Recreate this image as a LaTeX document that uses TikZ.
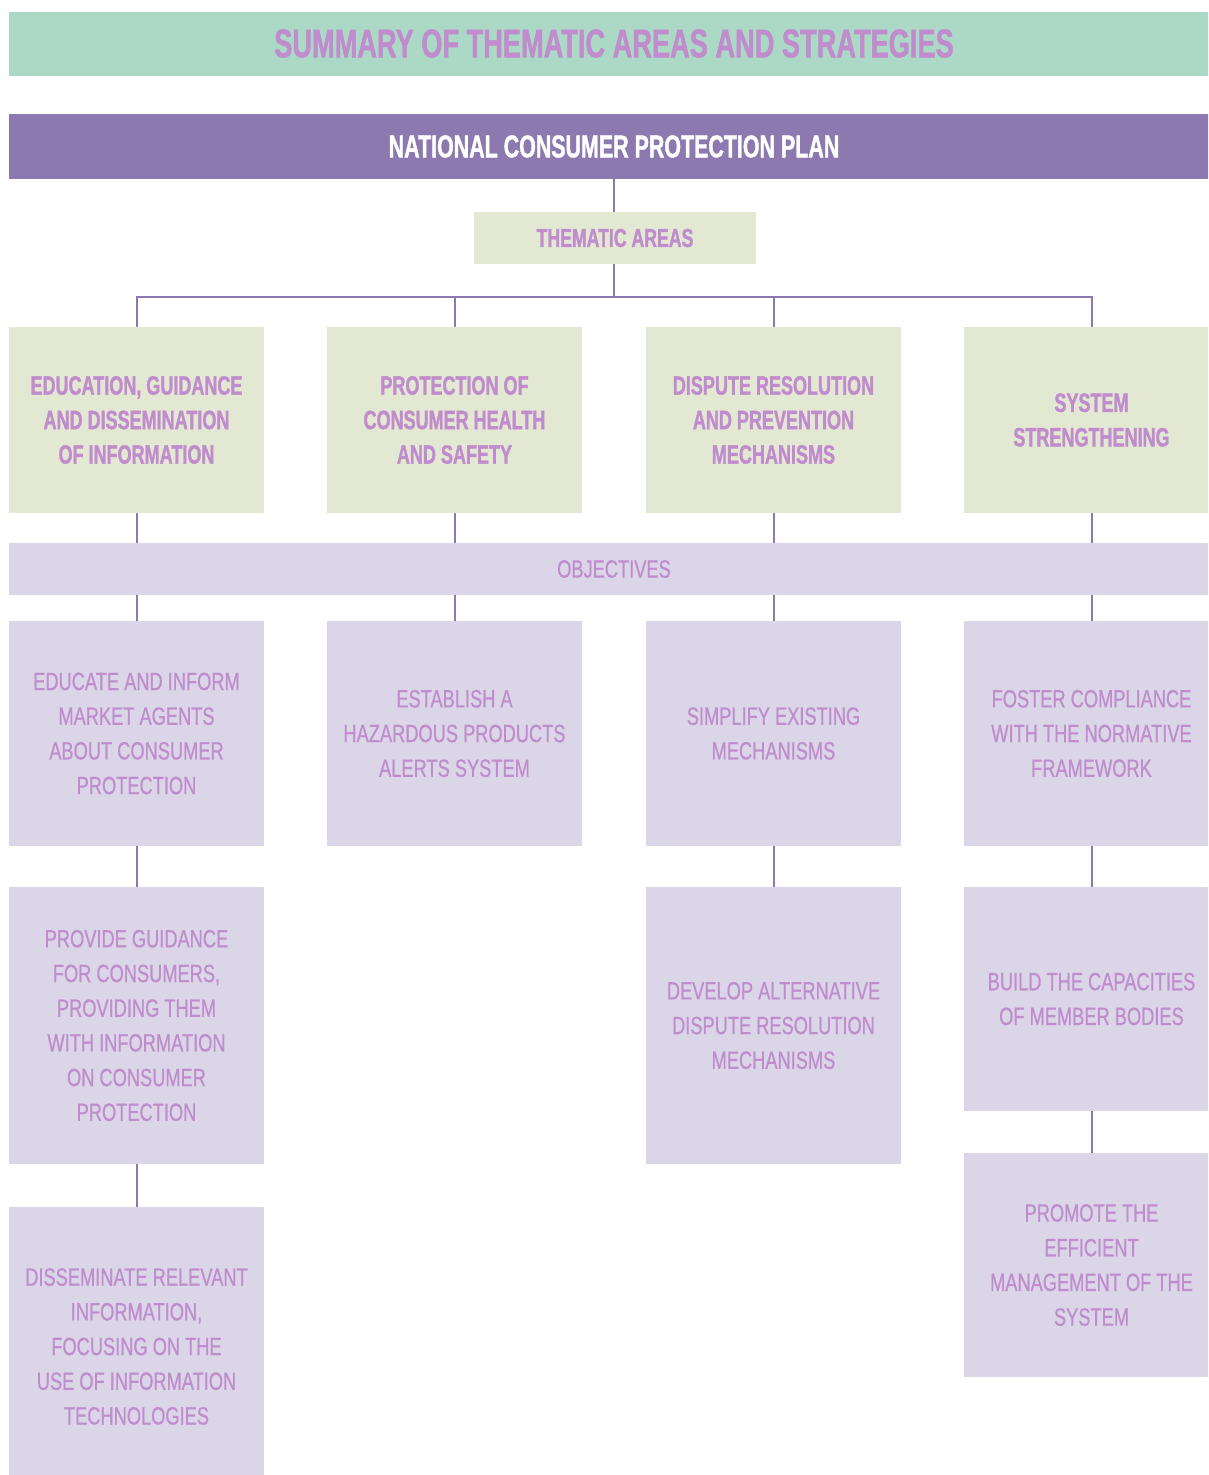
\documentclass[tikz,border=0pt]{standalone}
\usepackage{fontspec}
\newfontfamily\boldcond{Liberation Sans Bold}[FakeStretch=0.68, FakeBold=1.2]
\newfontfamily\regcond{Liberation Sans}[FakeStretch=0.73, FakeBold=0.6]
\definecolor{titlebar}{HTML}{ABD9C6}
\definecolor{planbar}{HTML}{8B79AF}
\definecolor{greenbox}{HTML}{E3E8D3}
\definecolor{lilacbox}{HTML}{DAD5E7}
\definecolor{pinktext}{HTML}{C08CCD}
\definecolor{linecol}{HTML}{8B79AF}
\begin{document}
\begin{tikzpicture}[x=1pt,y=-1pt,
  bar/.style={inner sep=0pt, minimum width=1210, align=center},
  thbox/.style={fill=greenbox, text=pinktext, inner sep=0pt, minimum width=255, align=center,
     font=\boldcond\fontsize{26.5}{34.5}\selectfont},
  obox/.style={fill=lilacbox, text=pinktext, inner sep=0pt, minimum width=255, align=center,
     font=\regcond\fontsize{25}{34.7}\selectfont},
  conn/.style={draw=linecol, line width=2pt}]
\useasboundingbox (0,0) rectangle (1208,1475);
\clip (0,0) rectangle (1208,1475);
% bars
\node[bar, fill=titlebar, text=pinktext, minimum height=64, font=\boldcond\fontsize{40}{44}\selectfont] (title) at (614,43.5) {SUMMARY OF THEMATIC AREAS AND STRATEGIES};
\node[bar, fill=planbar, text=white, minimum height=65, font=\boldcond\fontsize{31.5}{34}\selectfont] (plan) at (614,146.5) {NATIONAL CONSUMER PROTECTION PLAN};
\node[thbox, minimum width=282, minimum height=52, font=\boldcond\fontsize{26}{30}\selectfont] (ta) at (615,238) {THEMATIC AREAS};
\coordinate (hub) at (614,297);
% thematic boxes
\node[thbox, minimum height=186] (t1) at (136.5,420) {EDUCATION, GUIDANCE\\AND DISSEMINATION\\OF INFORMATION};
\node[thbox, minimum height=186] (t2) at (454.5,420) {PROTECTION OF\\CONSUMER HEALTH\\AND SAFETY};
\node[thbox, minimum height=186] (t3) at (773.5,420) {DISPUTE RESOLUTION\\AND PREVENTION\\MECHANISMS};
\node[thbox, minimum height=186] (t4) at (1091.5,420) {SYSTEM\\STRENGTHENING};
% objectives bar
\node[bar, fill=lilacbox, text=pinktext, minimum height=52, font=\regcond\fontsize{25}{28}\selectfont] (obj) at (614,569) {OBJECTIVES};
% objective boxes
\node[obox, minimum height=225] (o11) at (136.5,733.5) {EDUCATE AND INFORM\\MARKET AGENTS\\ABOUT CONSUMER\\PROTECTION};
\node[obox, minimum height=277] (o12) at (136.5,1025.5) {PROVIDE GUIDANCE\\FOR CONSUMERS,\\PROVIDING THEM\\WITH INFORMATION\\ON CONSUMER\\PROTECTION};
\node[obox, minimum height=279] (o13) at (136.5,1346.5) {DISSEMINATE RELEVANT\\INFORMATION,\\FOCUSING ON THE\\USE OF INFORMATION\\TECHNOLOGIES};
\node[obox, minimum height=225] (o21) at (454.5,733.5) {ESTABLISH A\\HAZARDOUS PRODUCTS\\ALERTS SYSTEM};
\node[obox, minimum height=225] (o31) at (773.5,733.5) {SIMPLIFY EXISTING\\MECHANISMS};
\node[obox, minimum height=277] (o32) at (773.5,1025.5) {DEVELOP ALTERNATIVE\\DISPUTE RESOLUTION\\MECHANISMS};
\node[obox, minimum height=225] (o41) at (1091.5,733.5) {FOSTER COMPLIANCE\\WITH THE NORMATIVE\\FRAMEWORK};
\node[obox, minimum height=224] (o42) at (1091.5,999) {BUILD THE CAPACITIES\\OF MEMBER BODIES};
\node[obox, minimum height=224] (o43) at (1091.5,1265) {PROMOTE THE\\EFFICIENT\\MANAGEMENT OF THE\\SYSTEM};
% connectors
\draw[conn] (plan.south -| hub) -- (ta.north -| hub);
\draw[conn] (ta.south -| hub) -- (hub);
\draw[conn] (t1.north) |- (hub) -| (t4.north);
\draw[conn] (t2.north) -- (t2.north |- hub);
\draw[conn] (t3.north) -- (t3.north |- hub);
\foreach \t/\o in {t1/o11,t2/o21,t3/o31,t4/o41}{
  \draw[conn] (\t.south) -- (\t.south |- obj.north);
  \draw[conn] (\o.north |- obj.south) -- (\o.north);
}
\draw[conn] (o11.south) -- (o12.north);
\draw[conn] (o12.south) -- (o13.north);
\draw[conn] (o31.south) -- (o32.north);
\draw[conn] (o41.south) -- (o42.north);
\draw[conn] (o42.south) -- (o43.north);
\end{tikzpicture}
\end{document}
